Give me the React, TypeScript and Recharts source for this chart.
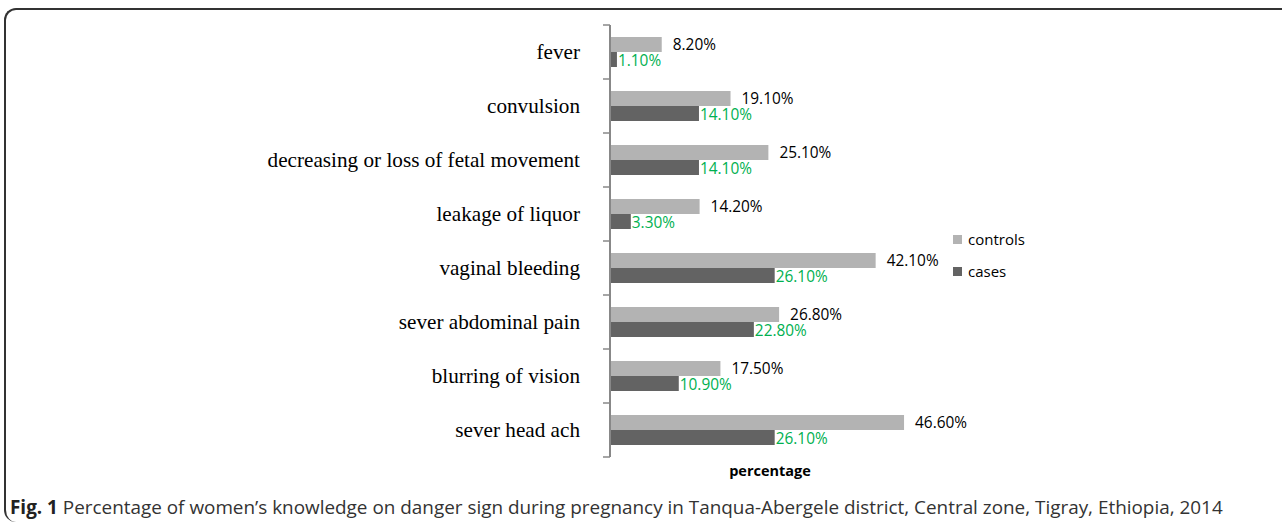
import { Bar, BarChart, LabelList, XAxis, YAxis } from "recharts";

const categories = [
  "fever",
  "convulsion",
  "decreasing or loss of fetal movement",
  "leakage of liquor",
  "vaginal bleeding",
  "sever abdominal pain",
  "blurring of vision",
  "sever head ach",
];
const controls = [8.2, 19.1, 25.1, 14.2, 42.1, 26.8, 17.5, 46.6];
const cases = [1.1, 14.1, 14.1, 3.3, 26.1, 22.8, 10.9, 26.1];

const data = categories.map((name, i) => ({ name, controls: controls[i], cases: cases[i] }));

const sans = "'Open Sans', 'Noto Sans', sans-serif";
const serif = "'Liberation Serif', 'DejaVu Serif', serif";
const fmt = (v: unknown) => `${Number(v).toFixed(2)}%`;

function CategoryTick(props: any) {
  const { x, y, payload, index } = props;
  const half = payload?.offset || 27;
  const last = index === categories.length - 1;
  return (
    <g>
      <line x1={x + 1} x2={x + 8} y1={y - half} y2={y - half} stroke="#888" strokeWidth={1.5} />
      {last && <line x1={x + 1} x2={x + 8} y1={y + half} y2={y + half} stroke="#888" strokeWidth={1.5} />}
      <text x={x - 22} y={y} dy="0.35em" textAnchor="end" fontFamily={serif} fontSize={21.2} fill="#000">
        {payload.value}
      </text>
    </g>
  );
}

export default function App() {
  return (
    <div style={{ position: "absolute", left: 0, top: 0, width: 1282, height: 525, background: "#fff" }}>
      <div
        style={{
          position: "absolute",
          left: 4,
          top: 8,
          width: 1280,
          height: 514,
          borderTop: "2px solid #333",
          borderLeft: "2px solid #333",
          borderTopLeftRadius: 12,
          borderBottomLeftRadius: 12,
          boxSizing: "border-box",
        }}
      />
      <BarChart
        width={1282}
        height={525}
        data={data}
        layout="vertical"
        margin={{ top: 25, right: 41, bottom: 68, left: 10 }}
        barGap={0}
        style={{ position: "absolute", left: 0, top: 0 }}
      >
        <XAxis type="number" domain={[0, 100]} hide />
        <YAxis
          type="category"
          dataKey="name"
          width={600}
          tickLine={false}
          tickSize={6}
          tickMargin={2}
          axisLine={{ stroke: "#888", strokeWidth: 2 }}
          tick={<CategoryTick />}
          interval={0}
        />
        <Bar dataKey="controls" fill="#b3b3b3" barSize={15} isAnimationActive={false}>
          <LabelList dataKey="controls" position="right" offset={11} formatter={fmt} fill="#000" fontFamily={sans} fontSize={15.4} />
        </Bar>
        <Bar dataKey="cases" fill="#636363" barSize={15} isAnimationActive={false}>
          <LabelList dataKey="cases" position="right" offset={1} dy={1} formatter={fmt} fill="#00b050" fontFamily={sans} fontSize={15.4} />
        </Bar>
      </BarChart>
      <div style={{ position: "absolute", left: 953, top: 229, fontFamily: sans, fontSize: 15, color: "#000" }}>
        <div style={{ display: "flex", alignItems: "center", height: 20 }}>
          <span style={{ width: 9, height: 9, background: "#b3b3b3", marginRight: 6 }} />
          controls
        </div>
        <div style={{ display: "flex", alignItems: "center", height: 20, marginTop: 12 }}>
          <span style={{ width: 9, height: 9, background: "#636363", marginRight: 6 }} />
          cases
        </div>
      </div>
      <div
        style={{
          position: "absolute",
          left: 610,
          width: 320,
          top: 461,
          textAlign: "center",
          fontFamily: sans,
          fontSize: 14.5,
          fontWeight: 700,
          color: "#000",
        }}
      >
        percentage
      </div>
      <div
        style={{
          position: "absolute",
          left: 10,
          top: 494,
          fontFamily: sans,
          fontSize: 18.9,
          color: "#333",
          whiteSpace: "nowrap",
        }}
      >
        <b style={{ color: "#222" }}>Fig. 1</b> Percentage of women’s knowledge on danger sign during pregnancy in Tanqua-Abergele district, Central zone, Tigray, Ethiopia, 2014
      </div>
    </div>
  );
}
